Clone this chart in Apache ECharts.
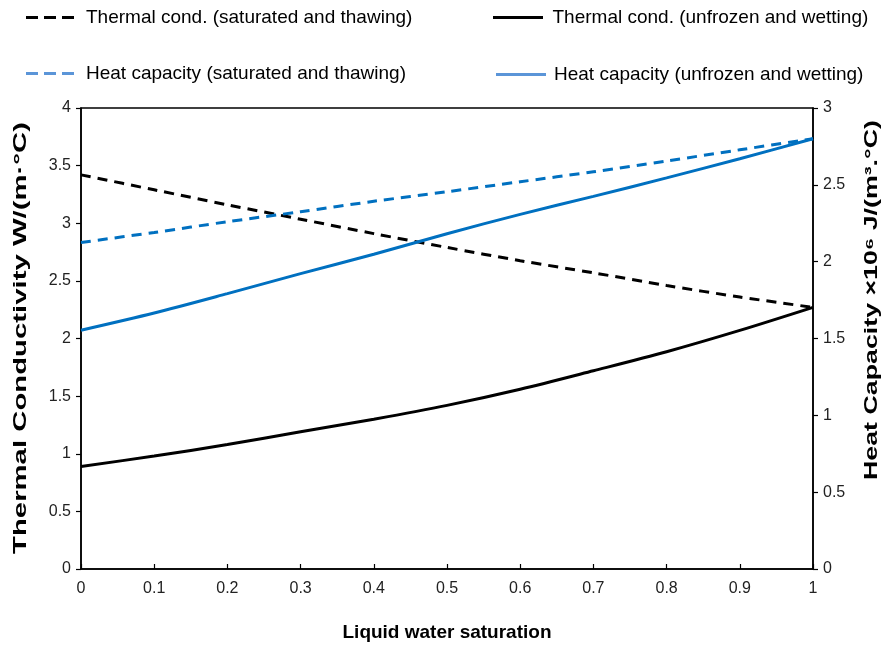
<!DOCTYPE html>
<html>
<head>
<meta charset="utf-8">
<script src="https://cdn.jsdelivr.net/npm/echarts@6/dist/echarts.min.js"></script>
<style>html,body{margin:0;padding:0;background:#fff}#c{width:889px;height:647px}</style>
</head>
<body>
<div id="c"></div>
<script>
const saturation = [0, 0.1, 0.2, 0.3, 0.4, 0.5, 0.6, 0.7, 0.8, 0.9, 1];
const condSatThaw = [3.42, 3.29, 3.16, 3.035, 2.91, 2.79, 2.675, 2.57, 2.46, 2.36, 2.27];
const condUnfrozenWet = [0.89, 0.98, 1.08, 1.19, 1.30, 1.42, 1.56, 1.72, 1.885, 2.07, 2.27];
const capSatThaw = [2.125, 2.19, 2.26, 2.325, 2.393, 2.455, 2.52, 2.585, 2.655, 2.728, 2.80];
const capUnfrozenWet = [1.554, 1.666, 1.792, 1.922, 2.048, 2.182, 2.308, 2.425, 2.545, 2.67, 2.80];

const names = [
  'Thermal cond. (saturated and thawing)',
  'Thermal cond. (unfrozen and wetting)',
  'Heat capacity (saturated and thawing)',
  'Heat capacity (unfrozen and wetting)'
];
const xTitle = 'Liquid water saturation';
const leftTitle = 'Thermal Conductivity W/(m·°C)';
const rightTitle = 'Heat Capacity ×10⁶ J/(m³.°C)';

const pair = arr => saturation.map((x, i) => [x, arr[i]]);
const BLUE = '#0070C0';
const LEG_BLUE = '#5B95D8';
const FONT = '"Liberation Sans", Arial, sans-serif';
const TITLE_FONT = 'bold 18px "Liberation Sans", Arial, sans-serif';
const DASH_ICON = 'path://M0,0h12v3H0zM18,0h12v3H18zM36,0h12v3H36z';
const SOLID_ICON = 'path://M0,0h50v3H0z';

const ctx = document.createElement('canvas').getContext('2d');
ctx.font = TITLE_FONT;
const stretch = (text, len) => len / ctx.measureText(text).width;

const chart = echarts.init(document.getElementById('c'), null, {renderer: 'canvas'});
function leg(name, icon, color, left, top, w, pad) {
  return {
    data: [{name: name, icon: icon, itemStyle: {color: color, borderWidth: 0}}],
    left: left, top: top, itemWidth: w, itemHeight: 3, padding: 0,
    selectedMode: false,
    textStyle: {fontFamily: FONT, fontSize: 19, color: '#000', padding: [0, 0, 0, pad]}
  };
}
chart.setOption({
  animation: false,
  backgroundColor: '#fff',
  grid: {left: 81, right: 76, top: 108, bottom: 75, show: true, borderColor: '#000', borderWidth: 1.5, backgroundColor: 'transparent'},
  legend: [
    leg(names[0], DASH_ICON, '#000', 26, 8, 48, 7),
    leg(names[1], SOLID_ICON, '#000', 493, 8, 51, 4),
    leg(names[2], DASH_ICON, LEG_BLUE, 26, 64, 48, 7),
    leg(names[3], SOLID_ICON, LEG_BLUE, 496, 65, 50, 3)
  ],
  graphic: [
    {type: 'text', x: 21, y: 338, rotation: Math.PI / 2, scaleX: stretch(leftTitle, 432), silent: true,
     style: {text: leftTitle, font: TITLE_FONT, fill: '#000', align: 'center', verticalAlign: 'middle'}},
    {type: 'text', x: 872, y: 300, rotation: Math.PI / 2, scaleX: stretch(rightTitle, 360), silent: true,
     style: {text: rightTitle, font: TITLE_FONT, fill: '#000', align: 'center', verticalAlign: 'middle'}}
  ],
  xAxis: {
    type: 'value', min: 0, max: 1, interval: 0.1,
    name: xTitle, nameLocation: 'middle', nameGap: 54,
    nameTextStyle: {fontFamily: FONT, fontSize: 19, fontWeight: 'bold', color: '#000'},
    axisLine: {lineStyle: {color: '#000', width: 1.5}},
    axisTick: {inside: true, length: 5, lineStyle: {color: '#000', width: 1.2}},
    axisLabel: {fontFamily: FONT, fontSize: 16, color: '#222', margin: 12},
    splitLine: {show: false}
  },
  yAxis: [
    {
      type: 'value', min: 0, max: 4, interval: 0.5, position: 'left',
      axisLine: {show: true, lineStyle: {color: '#000', width: 1.5}},
      axisTick: {show: true, length: 5, lineStyle: {color: '#000', width: 1.2}},
      axisLabel: {fontFamily: FONT, fontSize: 16, color: '#222', margin: 10},
      splitLine: {show: false}
    },
    {
      type: 'value', min: 0, max: 3, interval: 0.5, position: 'right',
      axisLine: {show: true, lineStyle: {color: '#000', width: 1.5}},
      axisTick: {show: true, length: 5, lineStyle: {color: '#000', width: 1.2}},
      axisLabel: {fontFamily: FONT, fontSize: 16, color: '#222', margin: 10},
      splitLine: {show: false}
    }
  ],
  series: [
    {name: names[0], type: 'line', yAxisIndex: 0, data: pair(condSatThaw), showSymbol: false, smooth: 0.3,
     itemStyle: {color: '#000'}, lineStyle: {color: '#000', width: 3, type: [10, 7]}},
    {name: names[1], type: 'line', yAxisIndex: 0, data: pair(condUnfrozenWet), showSymbol: false, smooth: 0.3,
     itemStyle: {color: '#000'}, lineStyle: {color: '#000', width: 3}},
    {name: names[2], type: 'line', yAxisIndex: 1, data: pair(capSatThaw), showSymbol: false, smooth: 0.3,
     itemStyle: {color: BLUE}, lineStyle: {color: BLUE, width: 3, type: [10, 7]}},
    {name: names[3], type: 'line', yAxisIndex: 1, data: pair(capUnfrozenWet), showSymbol: false, smooth: 0.3,
     itemStyle: {color: BLUE}, lineStyle: {color: BLUE, width: 3}}
  ]
});
</script>
</body>
</html>
